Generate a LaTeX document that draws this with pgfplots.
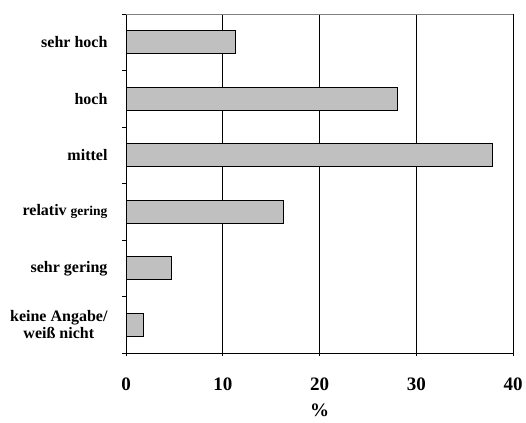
\documentclass[border=0pt]{standalone}
\usepackage{fontspec}
\setmainfont{Liberation Serif}
\usepackage{pgfplots}
\pgfplotsset{compat=1.18}
\definecolor{barfill}{HTML}{C0C0C0}
\begin{document}
\begin{tikzpicture}[x=1pt,y=1pt]
\useasboundingbox (0,0) rectangle (526,422);
\begin{axis}[
  at={(126pt,69pt)}, anchor=south west,
  scale only axis, width=387pt, height=339pt,
  xbar, bar width=23pt,
  xmin=0, xmax=40, ymin=-0.5, ymax=5.5,
  axis x line*=bottom, axis y line*=left,
  axis line style={black, line width=1pt},
  xtick={0,10,20,30,40},
  xmajorgrids, grid style={black, line width=0.7pt},
  ytick={0,1,2,3,4,5},
  yticklabels={{keine Angabe/\\weiß nicht},{sehr gering},{relativ {\fontsize{13.5}{14}\selectfont gering}},{mittel},{hoch},{sehr hoch}},
  minor ytick={-0.5,0.5,1.5,2.5,3.5,4.5,5.5},
  major y tick style={draw=none},
  minor tick length=4pt,
  major tick length=3pt,
  tick align=outside,
  tick style={black, line width=0.8pt},
  /pgf/number format/assume math mode=true,
  xticklabel style={font=\bfseries\fontsize{19}{19}\selectfont, yshift=-18pt},
  yticklabel style={font=\bfseries\fontsize{16}{17}\selectfont, align=center, anchor=east, xshift=-12pt},
  xlabel={\%}, xlabel style={font=\bfseries\fontsize{19}{19}\selectfont, inner sep=0.5pt, yshift=-9pt},
]
\addplot[fill=barfill, draw=black, line width=0.8pt] coordinates {
  (1.8,0) (4.7,1) (16.3,2) (37.9,3) (28.0,4) (11.3,5)
};
\draw[gray, line width=1pt] (rel axis cs:0,1) -- (rel axis cs:1,1);
\end{axis}
\end{tikzpicture}
\end{document}
